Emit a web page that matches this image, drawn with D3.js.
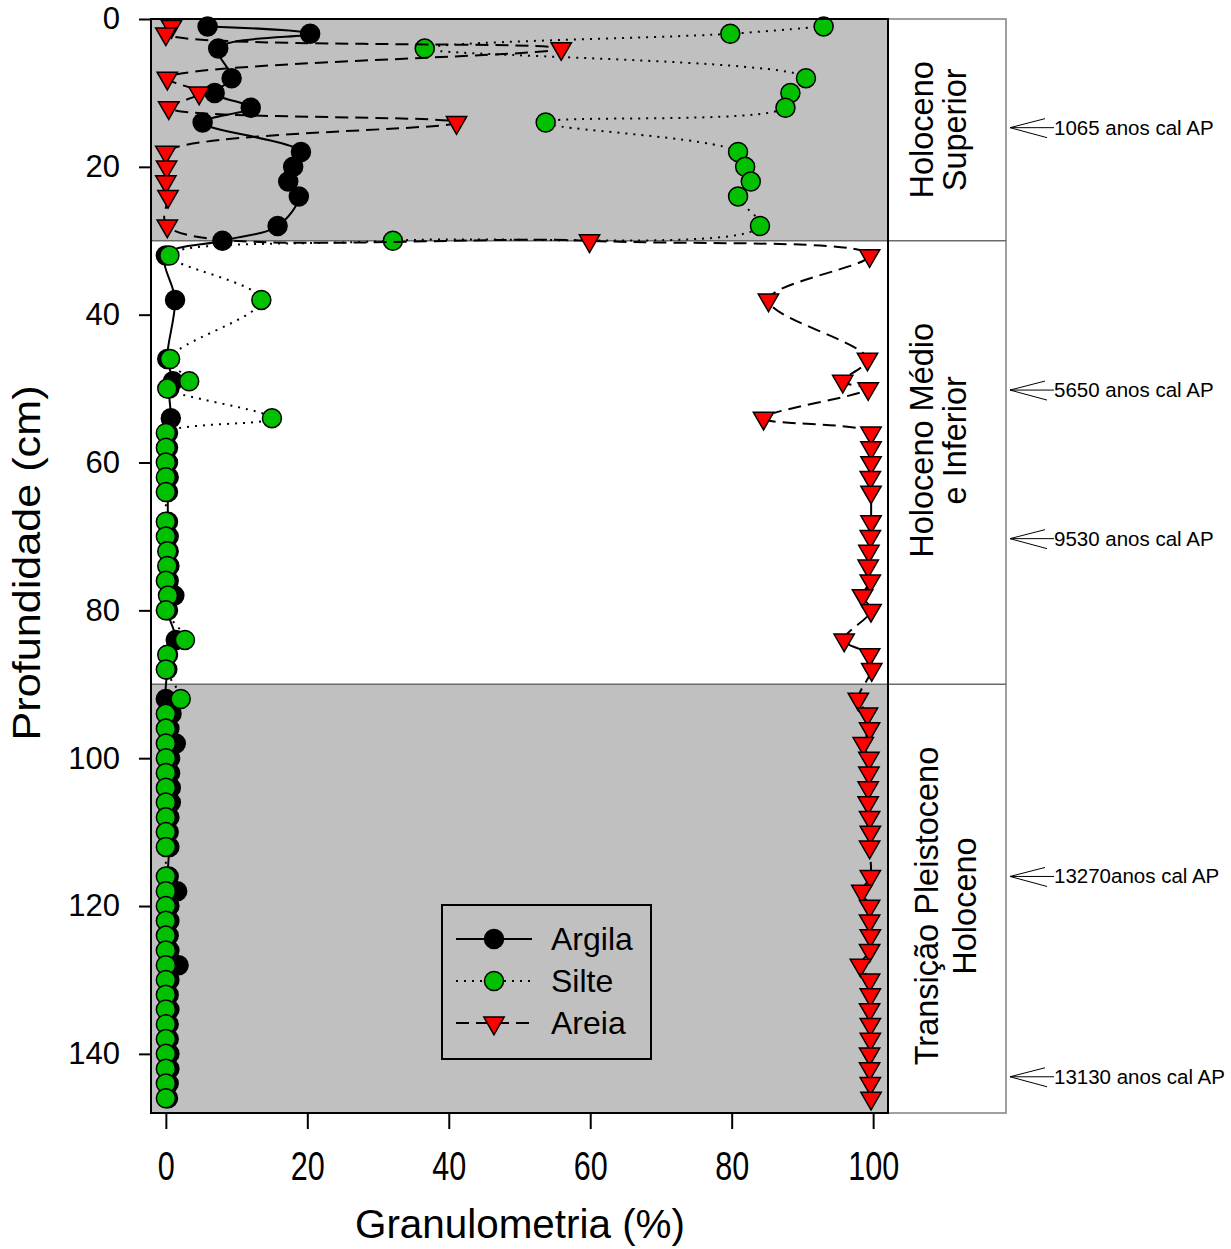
<!DOCTYPE html>
<html>
<head>
<meta charset="utf-8">
<script src="https://cdn.jsdelivr.net/npm/d3@7"></script>
<style>
  body { margin: 0; background: #fff; }
  text { font-family: "Liberation Sans", Arial, sans-serif; fill: #000; }
</style>
</head>
<body>
<svg id="chart" width="1231" height="1249"></svg>
<script>
// depth of each sample (cm)
var depths = [1, 2, 4, 8, 10, 12, 14, 18, 20, 22, 24, 28, 30,
  32, 38, 46, 49, 50, 54, 56, 58, 60, 62, 64, 68, 70, 72, 74, 76, 78, 80, 84, 86, 88,
  92, 94, 96, 98, 100, 102, 104, 106, 108, 110, 112,
  116, 118, 120, 122, 124, 126, 128, 130, 132, 134, 136, 138, 140, 142, 144, 146];

var argila = [5.9, 20.4, 7.4, 9.3, 6.9, 12.0, 5.2, 19.1, 18.0, 17.3, 18.8, 15.8, 8.0,
  0.0, 1.3, 0.2, 1.0, 0.5, 0.7, 0.3, 0.3, 0.3, 0.4, 0.3, 0.3, 0.4, 0.4, 0.5, 0.4, 1.2, 0.3, 1.4, 0.3, 0.2,
  0.0, 0.8, 0.5, 1.4, 0.6, 0.6, 0.7, 0.7, 0.5, 0.4, 0.5,
  0.4, 1.6, 0.5, 0.5, 0.4, 0.5, 1.8, 0.5, 0.4, 0.5, 0.4, 0.4, 0.5, 0.5, 0.4, 0.3];

var silte = [93.0, 79.8, 36.6, 90.5, 88.3, 87.6, 53.7, 80.9, 81.9, 82.7, 80.9, 84.0, 32.1,
  0.5, 13.5, 0.6, 3.3, 0.2, 15.0, 0.0, 0.0, 0.0, 0.0, 0.0, 0.0, 0.0, 0.2, 0.2, 0.0, 0.3, 0.0, 2.7, 0.2, 0.0,
  2.1, 0.0, 0.0, 0.0, 0.0, 0.0, 0.0, 0.0, 0.0, 0.0, 0.0,
  0.0, 0.0, 0.0, 0.0, 0.0, 0.0, 0.0, 0.0, 0.0, 0.0, 0.0, 0.0, 0.0, 0.0, 0.0, 0.0];

var areia = [0.8, 0.0, 55.9, 0.2, 4.7, 0.4, 41.1, 0.0, 0.1, 0.0, 0.3, 0.2, 59.9,
  99.5, 85.2, 99.2, 95.7, 99.3, 84.5, 99.7, 99.7, 99.7, 99.6, 99.7, 99.7, 99.6, 99.4, 99.3, 99.6, 98.5, 99.7, 95.9, 99.5, 99.8,
  97.9, 99.2, 99.5, 98.6, 99.4, 99.4, 99.3, 99.3, 99.5, 99.6, 99.5,
  99.6, 98.4, 99.5, 99.5, 99.6, 99.5, 98.2, 99.5, 99.6, 99.5, 99.6, 99.6, 99.5, 99.5, 99.6, 99.7];

var xTicks = [0, 20, 40, 60, 80, 100];
var yTicks = [0, 20, 40, 60, 80, 100, 120, 140];

// stratigraphic zones
var zoneTop = [0, 30, 90];
var zoneBottom = [30, 90, 148];
var zoneFill = ['#c0c0c0', '#ffffff', '#c0c0c0'];
var zoneLines = [['Holoceno', 'Superior'], ['Holoceno Médio', 'e Inferior'], ['Transição Pleistoceno', 'Holoceno']];
var zoneLabelDepth = [15, 57, 120];

// dated levels
var dateDepth = [14.7, 50.2, 70.3, 116, 143.1];
var dateLabel = ['1065 anos cal AP', '5650 anos cal AP', '9530 anos cal AP', '13270anos cal AP', '13130 anos cal AP'];

var seriesNames = ['Argila', 'Silte', 'Areia'];

draw_chart();

function draw_chart(){
    var svg = d3.select('#chart');
    var plot = {left: 151, right: 888, top: 19, bottom: 1113};
    var colRight = 1006;

    var x = d3.scaleLinear().domain([-2.1, 102.1]).range([plot.left, plot.right]);
    var y = d3.scaleLinear().domain([0, 148]).range([plot.top, plot.bottom]);

    // zone bands
    svg.selectAll('rect.zone').data(zoneTop).enter().append('rect')
        .attr('x', plot.left).attr('width', plot.right - plot.left)
        .attr('y', function(d){ return y(d); })
        .attr('height', function(d, i){ return y(zoneBottom[i]) - y(d); })
        .attr('fill', function(d, i){ return zoneFill[i]; });

    // zone column on the right
    svg.append('rect')
        .attr('x', plot.right).attr('y', plot.top)
        .attr('width', colRight - plot.right).attr('height', plot.bottom - plot.top)
        .attr('fill', 'none').attr('stroke', '#808080').attr('stroke-width', 1.5);
    svg.selectAll('line.zb').data(zoneBottom.slice(0, 2)).enter().append('line')
        .attr('x1', plot.left).attr('x2', colRight)
        .attr('y1', function(d){ return y(d); }).attr('y2', function(d){ return y(d); })
        .attr('stroke', '#6a6a6a').attr('stroke-width', 1.5);

    zoneLines.forEach(function(lines, i){
        var base = i === 2 ? [938, 976] : [933, 966];
        lines.forEach(function(t, j){
            svg.append('text')
                .attr('transform', 'translate(' + base[j] + ',' + y(zoneLabelDepth[i]) + ') rotate(-90)')
                .attr('text-anchor', 'middle')
                .style('font-size', '32.5px')
                .text(t);
        });
    });

    // dated levels
    dateDepth.forEach(function(d, i){
        var yy = y(d);
        var g = svg.append('g').attr('stroke', '#000').attr('stroke-width', 1);
        g.append('line').attr('x1', 1010).attr('y1', yy).attr('x2', 1045).attr('y2', yy - 9);
        g.append('line').attr('x1', 1010).attr('y1', yy).attr('x2', 1047).attr('y2', yy + 10);
        g.append('line').attr('x1', 1010).attr('y1', yy).attr('x2', 1054).attr('y2', yy);
        svg.append('text').attr('x', 1054).attr('y', yy + 7)
            .style('font-size', '20.5px').text(dateLabel[i]);
    });

    var series = [
        {vals: argila, fill: '#000000', dash: null, sym: 'circle'},
        {vals: silte, fill: '#00c000', dash: '2,6', sym: 'circle'},
        {vals: areia, fill: '#ff0000', dash: '13,7', sym: 'triangle'}
    ];

    var line = d3.line()
        .x(function(d){ return x(d.v); })
        .y(function(d){ return y(d.d); })
        .curve(d3.curveCatmullRom.alpha(0.5));

    var tri = d3.symbol().type(d3.symbolTriangle).size(180);

    series.forEach(function(s){
        var pts = depths.map(function(d, i){ return {d: d, v: s.vals[i]}; });
        svg.append('path').datum(pts)
            .attr('d', line)
            .attr('fill', 'none').attr('stroke', '#000').attr('stroke-width', 2)
            .attr('stroke-dasharray', s.dash);
        var g = svg.append('g');
        if (s.sym === 'circle'){
            g.selectAll('circle').data(pts).enter().append('circle')
                .attr('cx', function(d){ return x(d.v); })
                .attr('cy', function(d){ return y(d.d); })
                .attr('r', 9.5)
                .attr('fill', s.fill).attr('stroke', '#000').attr('stroke-width', 1.5);
        } else {
            g.selectAll('path').data(pts).enter().append('path')
                .attr('d', tri)
                .attr('transform', function(d){ return 'translate(' + x(d.v) + ',' + y(d.d) + ') rotate(180)'; })
                .attr('fill', s.fill).attr('stroke', '#000').attr('stroke-width', 1.5);
        }
    });

    // frame
    svg.append('rect')
        .attr('x', plot.left).attr('y', plot.top)
        .attr('width', plot.right - plot.left).attr('height', plot.bottom - plot.top)
        .attr('fill', 'none').attr('stroke', '#000').attr('stroke-width', 2);

    // axes
    var xAxis = svg.append('g').attr('transform', 'translate(0,' + (plot.bottom + 1) + ')')
        .call(d3.axisBottom(x).tickValues(xTicks).tickSize(15).tickPadding(22));
    xAxis.select('.domain').remove();
    xAxis.selectAll('line').attr('stroke-width', 2);
    xAxis.selectAll('text')
        .attr('font-family', null)
        .style('font-size', '41px')
        .attr('textLength', function(d){ return String(d).length * 17; })
        .attr('lengthAdjust', 'spacingAndGlyphs');

    var yAxis = svg.append('g').attr('transform', 'translate(' + (plot.left - 1) + ',0)')
        .call(d3.axisLeft(y).tickValues(yTicks).tickSize(11).tickPadding(19));
    yAxis.select('.domain').remove();
    yAxis.selectAll('line').attr('stroke-width', 2);
    yAxis.selectAll('text').attr('font-family', null).style('font-size', '31px');

    svg.append('text')
        .attr('transform', 'translate(40,563) rotate(-90)')
        .attr('text-anchor', 'middle')
        .style('font-size', '38px')
        .attr('textLength', 355).attr('lengthAdjust', 'spacingAndGlyphs')
        .text('Profundidade (cm)');

    svg.append('text')
        .attr('x', 520).attr('y', 1238)
        .attr('text-anchor', 'middle')
        .style('font-size', '41px')
        .attr('textLength', 330).attr('lengthAdjust', 'spacingAndGlyphs')
        .text('Granulometria (%)');

    // legend
    var lg = svg.append('g');
    lg.append('rect').attr('x', 442).attr('y', 905).attr('width', 209).attr('height', 154)
        .attr('fill', 'none').attr('stroke', '#000').attr('stroke-width', 2);
    series.forEach(function(s, i){
        var ly = 939 + i * 42;
        lg.append('line').attr('x1', 456).attr('x2', 532).attr('y1', ly).attr('y2', ly)
            .attr('stroke', '#000').attr('stroke-width', 2).attr('stroke-dasharray', s.dash);
        if (s.sym === 'circle'){
            lg.append('circle').attr('cx', 494).attr('cy', ly).attr('r', 9.5)
                .attr('fill', s.fill).attr('stroke', '#000').attr('stroke-width', 1.5);
        } else {
            lg.append('path').attr('d', tri)
                .attr('transform', 'translate(494,' + ly + ') rotate(180)')
                .attr('fill', s.fill).attr('stroke', '#000').attr('stroke-width', 1.5);
        }
        lg.append('text').attr('x', 551).attr('y', ly + 11)
            .style('font-size', '32px').text(seriesNames[i]);
    });
}
</script>
</body>
</html>
